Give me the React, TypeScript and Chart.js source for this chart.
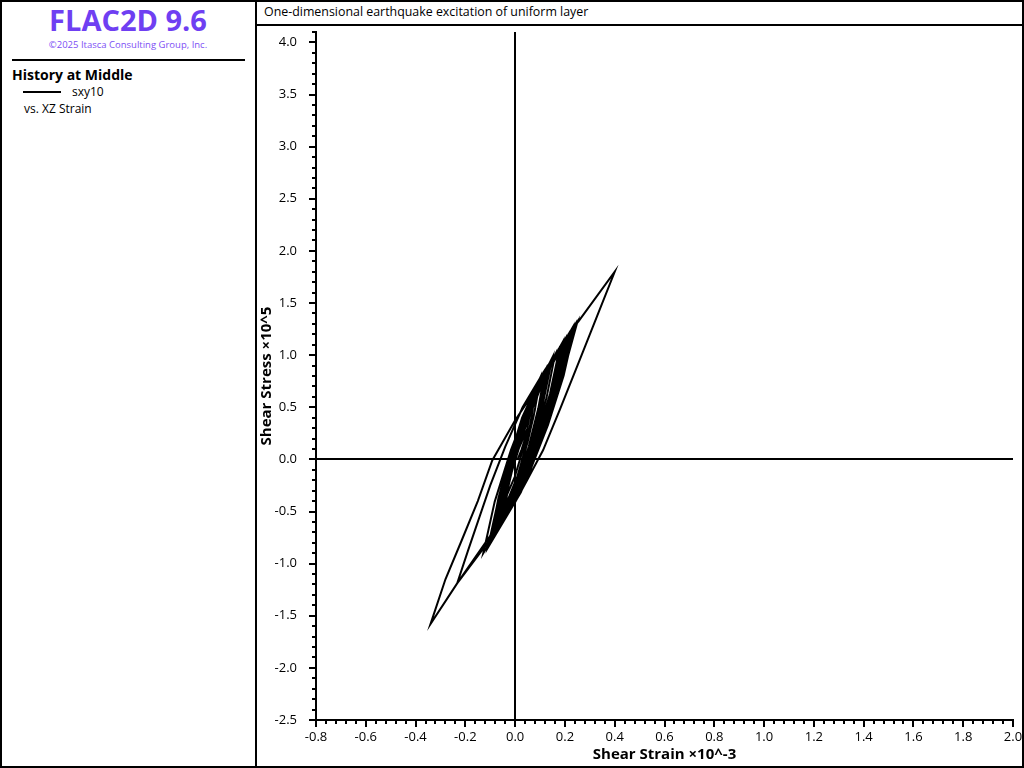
import React, { useEffect, useRef } from "react";
import { Chart, registerables } from "chart.js";

Chart.register(...registerables);

const appTitle = "FLAC2D 9.6";
const copyright = "©2025 Itasca Consulting Group, Inc.";
const historyTitle = "History at Middle";
const seriesLabel = "sxy10";
const vsLabel = "vs. XZ Strain";
const chartTitle = "One-dimensional earthquake excitation of uniform layer";
const xAxisTitle = "Shear Strain ×10^-3";
const yAxisTitle = "Shear Stress ×10^5";

const xMin = -0.8;
const xMax = 2.0;
const xStep = 0.2;
const xMinorStep = 0.04;
const yMin = -2.5;
const yMax = 4.1;
const yStep = 0.5;
const yMinorStep = 0.1;

// Shear strain (x10^-3), read along the hysteresis path
const strain = [
  0,
  0.009, 0.022, 0.037, 0.06,
  0.045, 0.024, -0.002, -0.04,
  -0.019, 0.01, 0.047, 0.1,
  0.074, 0.039, -0.005, -0.07,
  -0.037, 0.009, 0.066, 0.15,
  0.112, 0.06, -0.005, -0.1,
  -0.067, -0.021, 0.036, 0.12,
  0.093, 0.055, 0.008, -0.06,
  -0.016, 0.044, 0.12, 0.23,
  0.176, 0.101, 0.008, -0.128,
  -0.082, -0.017, 0.063, 0.18,
  0.14, 0.083, 0.013, -0.09,
  -0.039, 0.032, 0.121, 0.25,
  0.178, 0.076, -0.05, -0.233,
  -0.19, -0.15, -0.1, -0.04, 0.03, 0.12, 0.253, 0.4,
  0.33, 0.257, 0.18, 0.112, 0.05, 0, -0.11, -0.233, -0.34,
  -0.28, -0.217, -0.15, -0.092, 0, 0.12, 0.24,
  0.188, 0.114, 0.023, -0.11,
  -0.064, 0.002, 0.082, 0.2,
  0.158, 0.099, 0.026, -0.08,
  -0.047, -0.001, 0.056, 0.14,
  0.112, 0.072, 0.022, -0.05,
  -0.023, 0.015, 0.062, 0.13,
  0.097, 0.051, -0.006, -0.09,
  -0.062, -0.022, 0.028, 0.1,
  0.079, 0.05, 0.013, -0.04,
  -0.022, 0.003, 0.034, 0.08,
  0.059, 0.03, -0.007, -0.06,
  -0.027, 0.019, 0.076, 0.16,
  0.126, 0.077, 0.017, -0.07,
  -0.027, 0.034, 0.11, 0.22,
  0.172, 0.105, 0.022, -0.1,
  -0.049, 0.022, 0.111, 0.24,
  0.195, 0.132, 0.054, -0.06,
  -0.022, 0.03, 0.095, 0.19,
  0.15, 0.093, 0.023, -0.08,
  -0.036, 0.024, 0.1, 0.21,
  0.171, 0.116, 0.049, -0.05,
  -0.035, -0.014, 0.012, 0.05,
  0.04, 0.025, 0.01,
];

// Shear stress (x10^5), same order
const stress = [
  0,
  0.11, 0.225, 0.34, 0.45,
  0.24, 0.035, -0.17, -0.38,
  -0.1, 0.185, 0.47, 0.75,
  0.41, 0.065, -0.28, -0.62,
  -0.22, 0.18, 0.58, 0.98,
  0.54, 0.1, -0.34, -0.78,
  -0.37, 0.035, 0.44, 0.85,
  0.49, 0.125, -0.24, -0.6,
  -0.135, 0.33, 0.795, 1.26,
  0.72, 0.18, -0.36, -0.9,
  -0.405, 0.09, 0.585, 1.08,
  0.63, 0.18, -0.27, -0.72,
  -0.21, 0.3, 0.81, 1.32,
  0.69, 0.065, -0.56, -1.19,
  -0.88, -0.6, -0.25, 0.12, 0.5, 0.86, 1.32, 1.8,
  1.38, 0.94, 0.48, 0.087, -0.19, -0.41, -0.8, -1.19, -1.58,
  -1.15, -0.79, -0.4, -0.01, 0.375, 0.8, 1.29,
  0.755, 0.22, -0.315, -0.85,
  -0.35, 0.15, 0.65, 1.15,
  0.69, 0.235, -0.22, -0.68,
  -0.28, 0.12, 0.52, 0.92,
  0.565, 0.21, -0.145, -0.5,
  -0.155, 0.19, 0.535, 0.88,
  0.47, 0.065, -0.34, -0.75,
  -0.37, 0.015, 0.4, 0.78,
  0.47, 0.165, -0.14, -0.45,
  -0.18, 0.085, 0.35, 0.62,
  0.315, 0.01, -0.295, -0.6,
  -0.2, 0.2, 0.6, 1.0,
  0.59, 0.175, -0.24, -0.65,
  -0.18, 0.285, 0.75, 1.22,
  0.715, 0.21, -0.295, -0.8,
  -0.28, 0.24, 0.76, 1.28,
  0.805, 0.33, -0.145, -0.62,
  -0.185, 0.25, 0.685, 1.12,
  0.665, 0.21, -0.245, -0.7,
  -0.23, 0.24, 0.71, 1.18,
  0.748, 0.315, -0.118, -0.55,
  -0.34, -0.125, 0.09, 0.3,
  0.2, 0.09, 0,
];

const fmt = (v: number) => (Math.abs(v) < 1e-9 ? "0.0" : v.toFixed(1));

const minorTicksPlugin = {
  id: "minorTicks",
  afterDraw(chart: any) {
    const { ctx, chartArea, scales } = chart;
    ctx.save();
    ctx.strokeStyle = "#000";
    ctx.lineWidth = 2;
    const nx = Math.round((xMax - xMin) / xMinorStep);
    for (let i = 0; i <= nx; i++) {
      const v = xMin + i * xMinorStep;
      const px = Math.round(scales.x.getPixelForValue(v));
      ctx.beginPath();
      ctx.moveTo(px, chartArea.bottom);
      ctx.lineTo(px, chartArea.bottom + 4);
      ctx.stroke();
    }
    const ny = Math.round((yMax - yMin) / yMinorStep);
    for (let i = 0; i <= ny; i++) {
      const v = yMin + i * yMinorStep;
      const py = Math.round(scales.y.getPixelForValue(v));
      ctx.beginPath();
      ctx.moveTo(chartArea.left, py);
      ctx.lineTo(chartArea.left - 4, py);
      ctx.stroke();
    }
    ctx.restore();
  },
};

function HistoryChart() {
  const ref = useRef<HTMLCanvasElement | null>(null);
  useEffect(() => {
    if (!ref.current) return;
    const points = strain.map((x, i) => ({ x, y: stress[i] }));
    const tickFont = { family: "'Open Sans', sans-serif", size: 13 };
    const titleFont = { family: "'Open Sans', sans-serif", size: 15, weight: "bold" as const };
    const chart = new Chart(ref.current, {
      type: "scatter",
      data: {
        datasets: [
          {
            label: seriesLabel,
            data: points,
            showLine: true,
            borderColor: "#000",
            backgroundColor: "#000",
            borderWidth: 2,
            pointRadius: 0,
            fill: false,
            tension: 0,
          },
        ],
      },
      options: {
        animation: false,
        responsive: false,
        maintainAspectRatio: false,
        layout: { padding: { left: 0, right: 9, top: 6, bottom: 0 } },
        plugins: { legend: { display: false }, tooltip: { enabled: false } },
        scales: {
          x: {
            type: "linear",
            min: xMin,
            max: xMax,
            ticks: {
              stepSize: xStep,
              color: "#000",
              font: tickFont,
              padding: 2,
              maxRotation: 0,
              autoSkip: false,
              callback: (v: any) => fmt(Number(v)),
            },
            grid: {
              drawOnChartArea: true,
              drawTicks: true,
              tickLength: 7,
              tickColor: "#000",
              tickWidth: 2,
              color: (c: any) => (c.tick && Math.abs(c.tick.value) < 1e-9 ? "#000" : "rgba(0,0,0,0)"),
              lineWidth: 2,
            },
            border: { display: true, color: "#000", width: 2 },
            title: { display: true, text: xAxisTitle, color: "#000", font: titleFont, padding: { top: 0, bottom: 2 } },
            afterFit: (s: any) => {
              s.height = 46;
              s.paddingLeft = 0;
              s.paddingRight = 0;
            },
          },
          y: {
            type: "linear",
            min: yMin,
            max: yMax,
            ticks: {
              stepSize: yStep,
              includeBounds: false,
              color: "#000",
              font: tickFont,
              padding: 12,
              autoSkip: false,
              callback: (v: any) => fmt(Number(v)),
            },
            grid: {
              drawOnChartArea: true,
              drawTicks: true,
              tickLength: 7,
              tickColor: "#000",
              tickWidth: 2,
              color: (c: any) => (c.tick && Math.abs(c.tick.value) < 1e-9 ? "#000" : "rgba(0,0,0,0)"),
              lineWidth: 2,
            },
            border: { display: true, color: "#000", width: 2 },
            title: { display: true, text: yAxisTitle, color: "#000", font: titleFont, padding: { top: 0, bottom: 0 } },
            afterFit: (s: any) => {
              s.width = 58;
              s.paddingTop = 0;
              s.paddingBottom = 0;
            },
          },
        },
      },
      plugins: [minorTicksPlugin],
    });
    return () => chart.destroy();
  }, []);
  return (
    <canvas
      ref={ref}
      width={764}
      height={740}
      style={{ position: "absolute", left: 258, top: 26, width: 764, height: 740 }}
    />
  );
}

export default function App() {
  const font = "'Open Sans', 'Noto Sans', sans-serif";
  return (
    <div
      style={{
        position: "absolute",
        left: 0,
        top: 0,
        width: 1024,
        height: 768,
        background: "#fff",
        fontFamily: font,
        overflow: "hidden",
      }}
    >
      {/* outer frame */}
      <div
        style={{
          position: "absolute",
          left: 0,
          top: 0,
          width: 1024,
          height: 768,
          border: "2px solid #000",
          boxSizing: "border-box",
        }}
      />
      {/* vertical divider */}
      <div style={{ position: "absolute", left: 255, top: 0, width: 2, height: 768, background: "#000" }} />
      {/* title bar divider */}
      <div style={{ position: "absolute", left: 256, top: 24, width: 768, height: 2, background: "#000" }} />
      <div
        style={{
          position: "absolute",
          left: 264,
          top: 3,
          fontSize: 12.4,
          lineHeight: "18px",
          color: "#000",
          whiteSpace: "nowrap",
        }}
      >
        {chartTitle}
      </div>

      {/* left panel */}
      <div
        style={{
          position: "absolute",
          left: 0,
          width: 256,
          top: 2,
          textAlign: "center",
          fontSize: 29,
          fontWeight: 700,
          lineHeight: "36px",
          color: "#6f3ff2",
          whiteSpace: "nowrap",
        }}
      >
        {appTitle}
      </div>
      <div
        style={{
          position: "absolute",
          left: 0,
          width: 256,
          top: 38,
          textAlign: "center",
          fontSize: 9.5,
          lineHeight: "14px",
          color: "#7d4ff5",
          whiteSpace: "nowrap",
        }}
      >
        {copyright}
      </div>
      <div style={{ position: "absolute", left: 12, top: 59, width: 233, height: 2, background: "#000" }} />
      <div
        style={{
          position: "absolute",
          left: 12,
          top: 65,
          fontSize: 14,
          fontWeight: 700,
          lineHeight: "20px",
          color: "#000",
          whiteSpace: "nowrap",
        }}
      >
        {historyTitle}
      </div>
      <div style={{ position: "absolute", left: 23, top: 91, width: 38, height: 2, background: "#000" }} />
      <div
        style={{
          position: "absolute",
          left: 72,
          top: 84,
          fontSize: 12,
          lineHeight: "16px",
          color: "#000",
          whiteSpace: "nowrap",
        }}
      >
        {seriesLabel}
      </div>
      <div
        style={{
          position: "absolute",
          left: 24,
          top: 101,
          fontSize: 12,
          lineHeight: "16px",
          color: "#000",
          whiteSpace: "nowrap",
        }}
      >
        {vsLabel}
      </div>

      <HistoryChart />
    </div>
  );
}
